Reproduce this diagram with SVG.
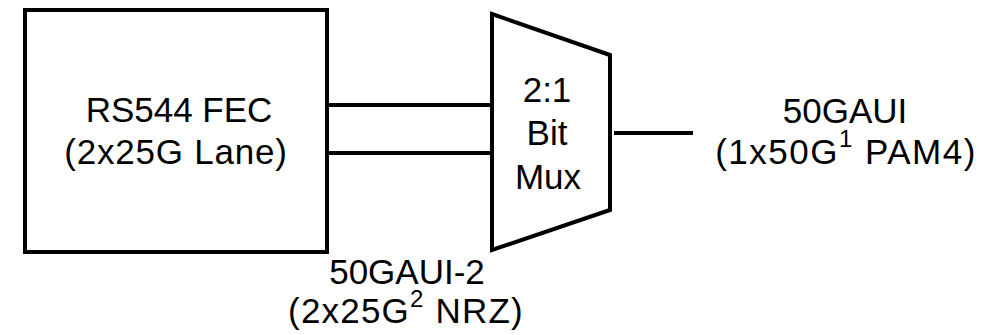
<svg xmlns="http://www.w3.org/2000/svg" width="999" height="335" viewBox="0 0 999 335">
<style>
.shape{fill:#fff;stroke:#000;stroke-width:4;stroke-linejoin:miter}
.wire{stroke:#000;stroke-width:4;fill:none}
text{font-family:"Liberation Sans",Arial,Helvetica,sans-serif;font-size:35px;fill:#000;text-anchor:middle}
.sup{font-size:24px}
</style>
<rect width="999" height="335" fill="#fff"/>
<g id="connectors">
<line class="wire" x1="327" y1="105" x2="492" y2="105"/>
<line class="wire" x1="327" y1="153" x2="496" y2="153"/>
<line class="wire" x1="614" y1="133" x2="693" y2="133"/>
</g>
<g id="fec">
<rect class="shape" x="25" y="10" width="302" height="242" stroke-width="3.5"/>
<text x="179" y="122">RS544 FEC<tspan x="176" y="164" style="letter-spacing:0.8px">(2x25G Lane)</tspan></text>
</g>
<g id="mux">
<polygon class="shape" points="492,14 610,55 610,210 492,250"/>
<text x="547" y="102">2:1<tspan x="547" y="145">Bit</tspan><tspan x="548" y="189">Mux</tspan></text>
</g>
<g id="gaui50">
<text x="845" y="123">50GAUI<tspan x="846" y="164" style="letter-spacing:1.5px">(1x50G<tspan class="sup" dy="-17">1</tspan><tspan dy="17"> PAM4)</tspan></tspan></text>
</g>
<g id="gaui50-2">
<text x="407" y="284">50GAUI-2<tspan x="406" y="323" style="letter-spacing:1.2px">(2x25G<tspan class="sup" dy="-16">2</tspan><tspan dy="16"> NRZ)</tspan></tspan></text>
</g>
</svg>
